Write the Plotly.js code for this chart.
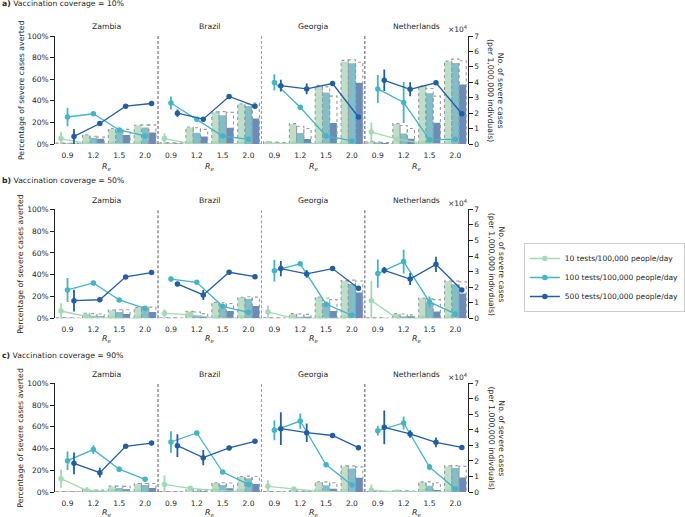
<!DOCTYPE html>
<html>
<head>
<meta charset="utf-8">
<script src="https://cdn.plot.ly/plotly-3.0.1.min.js"></script>
<style>html,body{margin:0;padding:0;background:#fff;}#chart{width:685px;height:517px;}</style>
</head>
<body>
<div id="chart"></div>
<script>
// ---------------- DATA ----------------
const reLabels = ['0.9', '1.2', '1.5', '2.0'];
const countries = ['Zambia', 'Brazil', 'Georgia', 'Netherlands'];
const coverageLabels = ['10%', '50%', '90%'];
const rowLetters = ['a)', 'b)', 'c)'];
const testLevels = ['10 tests/100,000 people/day', '100 tests/100,000 people/day', '500 tests/100,000 people/day'];
const pctTicks = [0, 20, 40, 60, 80, 100];
const pctTickLabels = ['0%', '20%', '40%', '60%', '80%', '100%'];

// Percentage of severe cases averted (16 values: Zambia, Brazil, Georgia, Netherlands x Re 0.9,1.2,1.5,2.0)
// Row a) coverage 10%
const pctA10  = [5, 0.3, 0, 0,   5, 0.3, 0, 0,   0.5, 0.2, 0, 0,   11, 4.5, 0.5, 0];
const errA10  = [6, 0, 0, 0,     5, 0, 0, 0,     0, 0, 0, 0,       9, 0, 0, 0];
const pctA100 = [25, 28, 13, 7.5,   38, 23, 7.4, 4.3,   57, 34, 7.4, 2.8,   51, 38.4, 4, 4.3];
const errA100 = [8.5, 1, 1, 1,      6, 1, 1, 1,         7.5, 2, 1, 0.5,     13, 19, 1, 1];
const pctA500 = [7, 19, 35, 37.5,   28.5, 23, 44, 35,   54, 51, 56, 25,     59, 50.6, 56.7, 28];
const errA500 = [7, 1, 1, 1,        3.5, 2, 1, 1,       5.5, 5, 1, 1,       10, 6.5, 1, 1];
// Row b) coverage 50%
const pctB10  = [6.7, 1.5, 0, 0,   4.6, 3.4, 0, 0,   5.8, 0, 0, 0,   16.2, 0, 0, 0];
const errB10  = [7, 0, 0, 0,       3.5, 0, 0, 0,     6, 0, 0, 0,     18, 0, 0, 0];
const pctB100 = [26, 32.4, 16.8, 9.2,   36, 33, 11, 5.5,   43.7, 50, 13, 2.8,   41, 52, 15, 4];
const errB100 = [11, 2, 1, 1,           2.5, 1, 1, 0.5,    10, 1, 1, 0.5,       13, 11, 5, 0.5];
const pctB500 = [16.2, 17, 38, 42,      31.5, 21.4, 42.2, 38.2,   45.6, 40.7, 45.6, 27.5,   44, 36, 49.5, 26];
const errB500 = [10, 1, 1, 1,           2, 4.5, 1, 1,             7, 3.5, 1, 1,             3, 5.5, 7, 1];
// Row c) coverage 90%
const pctC10  = [12.3, 1.2, 0.5, 0,   7, 3.4, 1.5, 0.5,   5.2, 2.8, 0.5, 0,   1.8, 0, 0, 0];
const errC10  = [8.5, 3.5, 0, 0,      8.5, 1, 0, 0,       5.5, 1, 0, 0,       5, 0, 0, 0];
const pctC100 = [28.8, 39, 21, 11.7,  46, 54.3, 18.4, 7,  56.7, 65.3, 25, 6.4,  56.4, 63.5, 23, 2.8];
const errC100 = [8.5, 4, 2.5, 1,      10, 2, 1, 1,        9, 7, 1, 1,           4.5, 6, 3, 0.5];
const pctC500 = [26.4, 17.8, 42, 45,  42.6, 31.6, 40.5, 46.6,   58.3, 54.6, 52, 40.8,   59.5, 53.4, 45.7, 41];
const errC500 = [10, 4.5, 1, 2,       10.5, 7, 1, 1,            15, 8.5, 1, 1,          15.5, 3.5, 4.5, 1];

// No. of severe cases per 1,000,000 (x10^4): median (bars) and upper bound (dotted bars)
const barA10  = [0.04, 0.58, 0.97, 1.2,   0.05, 1.07, 2.06, 2.58,   0.13, 1.3, 3.78, 5.35,   0.15, 1.3, 3.75, 5.33];
const barA100 = [0.03, 0.41, 0.86, 1.07,  0.04, 0.73, 1.87, 2.47,   0.08, 0.71, 3.33, 5.23,  0.1, 0.68, 3.29, 5.25];
const barA500 = [0.02, 0.34, 0.58, 0.75,  0.03, 0.49, 1.05, 1.65,   0.05, 0.32, 1.36, 3.97,  0.06, 0.34, 1.37, 3.86];
const upA10   = [0.06, 0.6, 1.0, 1.22,    0.07, 1.1, 2.08, 2.6,     0.15, 1.32, 3.8, 5.42,   0.17, 1.32, 3.78, 5.37];
const upA100  = [0.05, 0.5, 0.97, 1.24,   0.07, 1.05, 2.1, 2.62,    0.12, 1.15, 3.7, 5.45,   0.12, 1.2, 3.6, 5.5];
const upA500  = [0.04, 0.45, 0.95, 1.24,  0.06, 0.95, 2.05, 2.65,   0.1, 1.0, 3.1, 5.3,      0.1, 1.0, 3.1, 5.4];

const barB10  = [0.02, 0.3, 0.51, 0.68,   0.03, 0.43, 1.0, 1.33,    0.03, 0.28, 1.35, 2.4,   0.02, 0.28, 1.28, 2.38];
const barB100 = [0.02, 0.17, 0.41, 0.64,  0.02, 0.17, 0.81, 1.26,   0.02, 0.1, 1.0, 2.2,     0.02, 0.13, 0.96, 2.18];
const barB500 = [0.01, 0.13, 0.28, 0.41,  0.01, 0.1, 0.47, 0.79,    0.01, 0.1, 0.47, 1.65,   0.01, 0.13, 0.43, 1.6];
const upB10   = [0.03, 0.32, 0.53, 0.7,   0.04, 0.45, 1.02, 1.35,   0.04, 0.3, 1.37, 2.42,   0.03, 0.3, 1.3, 2.4];
const upB100  = [0.03, 0.3, 0.55, 0.72,   0.03, 0.4, 1.0, 1.38,     0.03, 0.28, 1.3, 2.45,   0.03, 0.28, 1.25, 2.4];
const upB500  = [0.02, 0.28, 0.55, 0.72,  0.02, 0.3, 0.95, 1.36,    0.02, 0.25, 1.2, 2.4,    0.02, 0.22, 1.2, 2.35];

const barC10  = [0.02, 0.13, 0.34, 0.52,  0.02, 0.13, 0.58, 0.99,   0.02, 0.05, 0.64, 1.65,  0.02, 0.06, 0.62, 1.65];
const barC100 = [0.01, 0.09, 0.26, 0.45,  0.01, 0.08, 0.45, 0.88,   0.01, 0.03, 0.43, 1.52,  0.01, 0.04, 0.41, 1.55];
const barC500 = [0.01, 0.06, 0.17, 0.26,  0.01, 0.05, 0.24, 0.52,   0.01, 0.02, 0.21, 0.92,  0.01, 0.02, 0.13, 0.94];
const upC10   = [0.03, 0.15, 0.38, 0.55,  0.03, 0.15, 0.6, 1.0,     0.03, 0.07, 0.66, 1.68,  0.03, 0.08, 0.65, 1.68];
const upC100  = [0.02, 0.13, 0.38, 0.55,  0.02, 0.14, 0.6, 1.02,    0.02, 0.06, 0.65, 1.68,  0.02, 0.07, 0.65, 1.7];
const upC500  = [0.02, 0.12, 0.36, 0.55,  0.02, 0.12, 0.58, 1.0,    0.02, 0.05, 0.6, 1.62,   0.02, 0.06, 0.6, 1.65];

// ---------------- STYLE ----------------
const FONT = 'DejaVu Sans, Liberation Sans, sans-serif';
const FS = 7.5;
const TXT = '#262626';
const lineColors = ['#a1dab4', '#41b6c4', '#225ea8'];
const barColors = ['#bddfc9', '#7fbfca', '#6a8cba'];
const lineOff = [-0.25, 0, 0.25];
const barOff = [-0.28, 0, 0.28];
const barW = 0.28;
const xDom = [57 / 685, 489 / 685];
const H = 517, W = 685;
const rowPix = [[36, 144], [209.3, 318.3], [383.3, 492]];

const rows = [
  {pct: [pctA10, pctA100, pctA500], err: [errA10, errA100, errA500], bar: [barA10, barA100, barA500], up: [upA10, upA100, upA500]},
  {pct: [pctB10, pctB100, pctB500], err: [errB10, errB100, errB500], bar: [barB10, barB100, barB500], up: [upB10, upB100, upB500]},
  {pct: [pctC10, pctC100, pctC500], err: [errC10, errC100, errC500], bar: [barC10, barC100, barC500], up: [upC10, upC100, upC500]}
];

const nC = countries.length, nR = reLabels.length;
const positions = [];
const tickText = [];
for (let c = 0; c < nC; c++) for (let k = 0; k < nR; k++) { positions.push(c * nR + k); tickText.push(reLabels[k]); }

const traces = [];
const layout = {
  width: W, height: H,
  margin: {l: 0, r: 0, t: 0, b: 0},
  paper_bgcolor: '#fff', plot_bgcolor: 'rgba(0,0,0,0)',
  font: {family: FONT, size: FS, color: TXT},
  barmode: 'overlay',
  showlegend: true,
  legend: {x: 547 / W, y: 1 - 243 / H, xanchor: 'left', yanchor: 'top', bgcolor: '#fff',
           bordercolor: '#cccccc', borderwidth: 1, font: {family: FONT, size: FS, color: TXT},
           tracegroupgap: 0, itemwidth: 30},
  annotations: [], shapes: []
};

function py(p) { return 1 - p / H; }

rows.forEach((row, r) => {
  const xId = r === 0 ? 'x' : 'x' + (r + 1);
  const xKey = r === 0 ? 'xaxis' : 'xaxis' + (r + 1);
  const yBarN = 2 * r + 1, yPctN = 2 * r + 2;
  const yBarId = yBarN === 1 ? 'y' : 'y' + yBarN;
  const yBarKey = yBarN === 1 ? 'yaxis' : 'yaxis' + yBarN;
  const yPctId = 'y' + yPctN, yPctKey = 'yaxis' + yPctN;
  const dom = [py(rowPix[r][1]), py(rowPix[r][0])];

  layout[xKey] = {domain: xDom, anchor: yBarId, range: [-0.5, positions.length - 0.5],
    tickvals: positions, ticktext: tickText, showgrid: false, zeroline: false, showline: false,
    ticks: 'outside', ticklen: 4, tickcolor: 'rgba(0,0,0,0)', tickfont: {size: FS, family: FONT, color: TXT}};
  layout[yBarKey] = {domain: dom, anchor: xId, side: 'right', range: [0, 7], dtick: 1,
    showgrid: false, zeroline: false, showline: true, linecolor: '#222', linewidth: 1,
    ticks: 'outside', ticklen: 3.5, tickcolor: '#222', tickfont: {size: FS, family: FONT, color: TXT}};
  layout[yPctKey] = {domain: dom, anchor: xId, overlaying: yBarId, side: 'left', range: [0, 100],
    tickmode: 'array', tickvals: pctTicks, ticktext: pctTickLabels, showgrid: false, zeroline: false,
    showline: true, linecolor: '#222', linewidth: 1, ticks: 'outside', ticklen: 3.5, tickcolor: '#222',
    tickfont: {size: FS, family: FONT, color: TXT}};

  // bars (median) and dotted upper-bound bars
  for (let l = 0; l < 3; l++) {
    traces.push({type: 'bar', x: positions, y: row.bar[l], xaxis: xId, yaxis: yBarId,
      offset: barOff[l] - barW / 2, width: barW, marker: {color: barColors[l], line: {width: 0}},
      showlegend: false, hoverinfo: 'skip'});
  }
  for (let l = 0; l < 3; l++) {
    const dx = [], dy = [];
    positions.forEach((p, i) => {
      const x0 = p + barOff[l] - barW / 2, x1 = x0 + barW;
      dx.push(x0, x0, x1, x1, null);
      dy.push(0, row.up[l][i], row.up[l][i], 0, null);
    });
    traces.push({type: 'scatter', mode: 'lines', x: dx, y: dy, xaxis: xId, yaxis: yBarId,
      line: {color: '#9a9a9a', width: 1.1, dash: 'dot'}, showlegend: false, hoverinfo: 'skip'});
  }
  // lines with error bars
  for (let l = 0; l < 3; l++) {
    const lx = [], ly = [], le = [];
    for (let c = 0; c < nC; c++) {
      for (let k = 0; k < nR; k++) {
        const i = c * nR + k;
        lx.push(positions[i] + lineOff[l]); ly.push(row.pct[l][i]); le.push(row.err[l][i]);
      }
      lx.push(null); ly.push(null); le.push(null);
    }
    traces.push({type: 'scatter', mode: 'lines+markers', name: testLevels[l], legendgroup: 'g' + l,
      showlegend: r === 0, x: lx, y: ly, xaxis: xId, yaxis: yPctId,
      line: {color: lineColors[l], width: 1.3}, marker: {color: lineColors[l], size: 5.5},
      error_y: {type: 'data', array: le, visible: true, thickness: 1.8, width: 0, color: lineColors[l]},
      connectgaps: false, hoverinfo: 'skip'});
  }

  // dividers between countries
  const divColors = ['#555', '#999', '#555'];
  for (let c = 1; c < nC; c++) {
    layout.shapes.push({type: 'line', xref: xId, yref: yPctId, x0: c * nR - 0.5, x1: c * nR - 0.5, y0: 0, y1: 100,
      line: {color: divColors[c - 1], width: 1, dash: '3px,2px'}, layer: 'above'});
  }
  // dotted baseline
  layout.shapes.push({type: 'line', xref: xId, yref: yBarId, x0: -0.5, x1: positions.length - 0.5, y0: 0, y1: 0,
    line: {color: '#8a8a8a', width: 1, dash: 'dot'}, layer: 'below'});

  // row title
  layout.annotations.push({xref: 'paper', yref: 'paper', x: 0, y: py([4, 181, 355][r]), xanchor: 'left', yanchor: 'middle',
    text: '<b>' + rowLetters[r] + '</b> Vaccination coverage = ' + coverageLabels[r], showarrow: false,
    font: {size: FS + 0.2, family: FONT, color: TXT}});
  // country titles and Re labels
  for (let c = 0; c < nC; c++) {
    const cx = c * nR + (nR - 1) / 2;
    layout.annotations.push({xref: xId, yref: 'paper', x: cx, y: py([27, 200.7, 374][r]), xanchor: 'center', yanchor: 'middle',
      text: countries[c], showarrow: false, font: {size: FS + 0.2, family: FONT, color: TXT}});
    layout.annotations.push({xref: xId, yref: 'paper', x: cx, y: py([167, 339, 512.5][r]), xanchor: 'center', yanchor: 'middle',
      text: '<i>R</i><sub><i>e</i></sub>', showarrow: false, font: {size: FS + 0.4, family: FONT, color: TXT}});
  }
  // x10^4
  layout.annotations.push({xref: 'paper', yref: 'paper', x: 478 / W, y: py([29, 202.7, 376.7][r]), xanchor: 'center', yanchor: 'middle',
    text: '×10<sup>4</sup>', showarrow: false, font: {size: FS, family: FONT, color: TXT}});
  // axis titles
  const cy = py((rowPix[r][0] + rowPix[r][1]) / 2);
  layout.annotations.push({xref: 'paper', yref: 'paper', x: 22 / W, y: cy, xanchor: 'center', yanchor: 'middle',
    textangle: -90, text: 'Percentage of severe cases averted', showarrow: false,
    font: {size: FS + 0.3, family: FONT, color: TXT}});
  layout.annotations.push({xref: 'paper', yref: 'paper', x: 518 / W, y: cy, xanchor: 'center', yanchor: 'middle',
    textangle: 90, text: 'No. of severe cases<br>(per 1,000,000 indivduals)', showarrow: false,
    font: {size: FS + 0.3, family: FONT, color: TXT}});
});

Plotly.newPlot('chart', traces, layout, {displayModeBar: false, staticPlot: true});
</script>
</body>
</html>
